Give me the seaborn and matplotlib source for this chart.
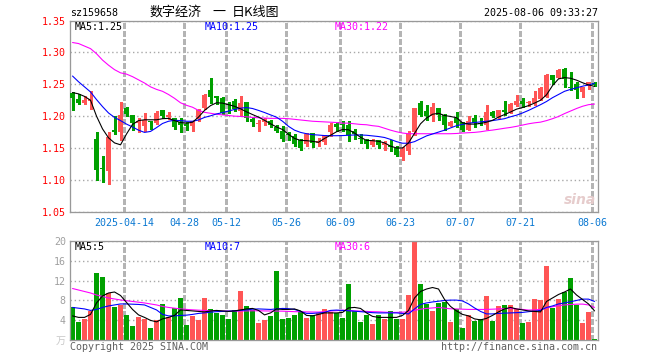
import numpy as np
import pandas as pd
import matplotlib
matplotlib.use("Agg")
import matplotlib.pyplot as plt
import seaborn as sns

# ---------------- data ----------------
tick_idx = [9, 19, 26, 36, 45, 55, 65, 75, 87]
tick_labels = ["2025-04-14", "04-28", "05-12", "05-26", "06-09", "06-23", "07-07", "07-21", "08-06"]

open_ = [1.236, 1.227, 1.2214, 1.223, 1.1646, 1.118, 1.1135, 1.1786, 1.175, 1.2133,
         1.2016, 1.1891, 1.1839, 1.1917, 1.1885, 1.2096, 1.199, 1.1969, 1.1912, 1.1875,
         1.1846, 1.195, 1.2125, 1.2411, 1.2318, 1.2292, 1.2188, 1.224, 1.2073, 1.2219,
         1.1958, 1.187, 1.1906, 1.1917, 1.1823, 1.176, 1.1714, 1.1693, 1.1625, 1.1568,
         1.1734, 1.1573, 1.1594, 1.1745, 1.188, 1.187, 1.1865, 1.176, 1.1656, 1.1625,
         1.1552, 1.162, 1.1552, 1.1552, 1.150, 1.1354, 1.1448, 1.1745, 1.2203, 1.2083,
         1.1995, 1.2125, 1.2021, 1.1849, 1.1969, 1.1906, 1.1786, 1.1969, 1.1891, 1.1865,
         1.2063, 1.1979, 1.2099, 1.2063, 1.2177, 1.224, 1.2203, 1.2203, 1.2266, 1.2307,
         1.2646, 1.2604, 1.274, 1.2464, 1.25, 1.2385, 1.2479, 1.2526]
high = [1.2385, 1.234, 1.231, 1.2396, 1.1745, 1.138, 1.1757, 1.2005, 1.2229, 1.2151,
        1.202, 1.1969, 1.2055, 1.1922, 1.2073, 1.2099, 1.2063, 1.1975, 1.1969, 1.1906,
        1.1927, 1.2112, 1.2344, 1.2604, 1.2318, 1.2307, 1.2229, 1.2271, 1.2318, 1.2219,
        1.1969, 1.1938, 1.1969, 1.1943, 1.1865, 1.1849, 1.175, 1.1724, 1.1646, 1.1734,
        1.1734, 1.1656, 1.1708, 1.1891, 1.1906, 1.1927, 1.1927, 1.1797, 1.1724, 1.1646,
        1.1641, 1.162, 1.1604, 1.163, 1.1526, 1.151, 1.176, 1.2135, 1.224, 1.2177,
        1.2203, 1.2135, 1.2031, 1.1917, 1.2063, 1.1906, 1.2005, 1.2021, 1.1969, 1.2177,
        1.2083, 1.2099, 1.224, 1.2203, 1.2333, 1.2292, 1.224, 1.2396, 1.2464, 1.2656,
        1.2646, 1.2734, 1.276, 1.2688, 1.2531, 1.2464, 1.2542, 1.2542]
low = [1.209, 1.2195, 1.2198, 1.2115, 1.1005, 1.0965, 1.0938, 1.1724, 1.163, 1.2005,
       1.1776, 1.175, 1.176, 1.180, 1.187, 1.1975, 1.1958, 1.1797, 1.1748, 1.1786,
       1.1774, 1.1927, 1.2115, 1.2212, 1.2198, 1.2031, 1.2047, 1.2083, 1.2021, 1.1927,
       1.1839, 1.176, 1.1854, 1.1823, 1.175, 1.1604, 1.163, 1.1526, 1.1474, 1.1526,
       1.151, 1.1526, 1.1568, 1.1682, 1.1771, 1.176, 1.1604, 1.1646, 1.1578, 1.150,
       1.1536, 1.150, 1.1474, 1.1448, 1.137, 1.1318, 1.1411, 1.1708, 1.1995, 1.1943,
       1.1927, 1.1943, 1.1786, 1.1839, 1.1823, 1.176, 1.1776, 1.1823, 1.1854, 1.1802,
       1.1979, 1.1969, 1.2021, 1.2047, 1.2167, 1.2151, 1.2167, 1.2177, 1.2255, 1.2297,
       1.25, 1.2594, 1.2464, 1.2411, 1.2281, 1.2307, 1.2427, 1.2479]
close = [1.228, 1.2212, 1.226, 1.227, 1.1148, 1.1172, 1.1667, 1.1745, 1.2021, 1.2028,
         1.1888, 1.1927, 1.1932, 1.1901, 1.2052, 1.1995, 1.2021, 1.1828, 1.1856, 1.1845,
         1.1919, 1.210, 1.2338, 1.2307, 1.2292, 1.2047, 1.2172, 1.2115, 1.2214, 1.1969,
         1.1906, 1.1896, 1.1938, 1.1854, 1.176, 1.1646, 1.1708, 1.1568, 1.150, 1.1719,
         1.1573, 1.1604, 1.1708, 1.1865, 1.1823, 1.186, 1.1698, 1.1724, 1.1641, 1.1563,
         1.162, 1.1552, 1.1573, 1.151, 1.1385, 1.1484, 1.1719, 1.2135, 1.2021, 1.201,
         1.2151, 1.2021, 1.1854, 1.1901, 1.1891, 1.1786, 1.1927, 1.1891, 1.1875, 1.2063,
         1.1995, 1.2099, 1.2068, 1.2188, 1.224, 1.2198, 1.2219, 1.2292, 1.2448, 1.2646,
         1.2568, 1.2724, 1.2583, 1.2448, 1.2411, 1.2464, 1.2531, 1.249]

ma5 = [1.237, 1.235, 1.231, 1.225, 1.200, 1.180, 1.166, 1.158, 1.155, 1.172,
       1.187, 1.193, 1.1943, 1.1943, 1.1943, 1.196, 1.1965, 1.193, 1.190, 1.189,
       1.1905, 1.1985, 1.209, 1.2165, 1.221, 1.2205, 1.218, 1.2155, 1.2115, 1.2068,
       1.2025, 1.1985, 1.1935, 1.188, 1.183, 1.179, 1.1715, 1.165, 1.162, 1.1615,
       1.1605, 1.159, 1.165, 1.170, 1.1755, 1.179, 1.1786, 1.1735, 1.1668, 1.162,
       1.1615, 1.1605, 1.158, 1.153, 1.150, 1.150, 1.158, 1.173, 1.188, 1.197,
       1.203, 1.2045, 1.201, 1.1995, 1.1975, 1.1895, 1.1875, 1.1875, 1.1885, 1.1905,
       1.1935, 1.1985, 1.2025, 1.2065, 1.211, 1.2135, 1.2165, 1.2205, 1.225, 1.2335,
       1.248, 1.2585, 1.2605, 1.2595, 1.2565, 1.2525, 1.249, 1.2467]
ma10 = [1.263, 1.254, 1.246, 1.238, 1.226, 1.215, 1.205, 1.198, 1.193, 1.1875,
        1.183, 1.178, 1.1745, 1.176, 1.182, 1.1885, 1.192, 1.1935, 1.193, 1.192,
        1.192, 1.194, 1.198, 1.2005, 1.2035, 1.2055, 1.208, 1.2105, 1.2125, 1.2135,
        1.212, 1.209, 1.2057, 1.202, 1.1984, 1.192, 1.184, 1.178, 1.1745, 1.1724,
        1.171, 1.1703, 1.1695, 1.1693, 1.1693, 1.1695, 1.170, 1.1705, 1.1705, 1.170,
        1.169, 1.168, 1.1665, 1.1635, 1.160, 1.1575, 1.1575, 1.160, 1.1645, 1.169,
        1.172, 1.175, 1.178, 1.1815, 1.185, 1.187, 1.189, 1.190, 1.191, 1.192,
        1.193, 1.1945, 1.196, 1.199, 1.2015, 1.205, 1.209, 1.2135, 1.218, 1.223,
        1.229, 1.234, 1.239, 1.242, 1.2445, 1.247, 1.249, 1.2515]
ma30 = [1.3156, 1.314, 1.310, 1.306, 1.298, 1.288, 1.280, 1.273, 1.268, 1.266,
        1.262, 1.257, 1.252, 1.246, 1.242, 1.239, 1.234, 1.228, 1.221, 1.217,
        1.214, 1.209, 1.206, 1.2045, 1.203, 1.202, 1.201, 1.200, 1.1995, 1.199,
        1.198, 1.1975, 1.197, 1.1965, 1.1965, 1.1965, 1.196, 1.195, 1.194, 1.193,
        1.192, 1.1915, 1.191, 1.1905, 1.190, 1.189, 1.189, 1.188, 1.187, 1.1865,
        1.185, 1.184, 1.181, 1.178, 1.1755, 1.1735, 1.1724, 1.1724, 1.1724, 1.1724,
        1.1724, 1.1724, 1.1724, 1.1724, 1.1728, 1.1735, 1.174, 1.1745, 1.1755, 1.177,
        1.1781, 1.1795, 1.181, 1.1823, 1.184, 1.186, 1.188, 1.1895, 1.1906, 1.193,
        1.196, 1.1995, 1.204, 1.208, 1.212, 1.2155, 1.218, 1.219]

volume = [6.67, 3.67, 4.27, 5.9, 13.47, 12.67, 9.4, 6.67, 7.07, 5.07,
          2.87, 4.67, 4.2, 2.47, 4.07, 7.27, 4.6, 6.53, 8.47, 3.07,
          4.93, 4.07, 8.47, 6.2, 5.53, 5.07, 4.27, 6.07, 9.87, 6.87,
          6.07, 3.53, 4.07, 4.87, 13.87, 4.27, 4.47, 5.07, 5.73, 4.47,
          5.07, 5.53, 6.27, 5.73, 5.4, 4.47, 11.27, 5.93, 3.67, 5.07,
          3.27, 5.07, 4.27, 5.87, 4.27, 4.27, 9.07, 19.67, 11.27, 7.27,
          5.87, 7.53, 7.67, 3.67, 6.27, 2.47, 5.07, 3.93, 4.27, 8.87,
          3.93, 6.87, 7.07, 7.07, 6.33, 3.53, 3.67, 8.27, 8.07, 14.93,
          6.53, 8.27, 9.67, 12.47, 7.07, 3.47, 5.67, 0.27]
vma5 = [4.9, 4.6, 4.6, 5.2, 7.5, 8.9, 9.5, 9.7, 9.0, 7.6,
        6.2, 5.1, 4.6, 4.0, 3.7, 4.3, 4.6, 5.0, 6.1, 6.0,
        5.9, 5.8, 5.7, 5.9, 6.0, 5.9, 5.8, 5.9, 6.1, 6.3,
        6.4, 6.0, 5.1, 5.5, 6.3, 6.2, 6.2, 6.3, 5.9, 5.0,
        4.9, 5.2, 5.5, 5.5, 5.5, 5.6, 6.5, 6.6, 6.4, 5.5,
        4.8, 4.6, 4.6, 4.6, 4.6, 5.0, 6.0, 8.5, 9.8, 10.3,
        10.6, 10.3, 8.2, 6.8, 5.9, 5.2, 4.9, 4.3, 4.1, 4.4,
        5.0, 5.7, 6.3, 6.6, 6.3, 6.1, 5.9, 5.8, 5.7, 7.8,
        8.5, 9.2, 9.7, 10.3, 9.1, 8.2, 7.3, 5.9]
vma10 = [6.6, 6.45, 6.3, 6.0, 6.2, 6.6, 6.9, 7.1, 7.3, 7.3,
         7.25, 7.2, 7.1, 6.6, 6.1, 5.2, 4.9, 4.9, 5.0, 5.05,
         5.2, 5.4, 5.5, 5.65, 5.75, 5.8, 5.85, 5.9, 6.0, 6.1,
         6.25, 6.3, 6.25, 6.2, 6.3, 6.4, 6.35, 6.2, 5.8, 5.4,
         5.4, 5.5, 5.6, 6.0, 6.07, 6.0, 5.93, 5.85, 5.75, 5.65,
         5.55, 5.5, 5.5, 5.5, 5.5, 5.4, 5.3, 6.3, 7.2, 7.5,
         7.7, 7.85, 8.0, 8.07, 8.07, 7.9, 7.3, 6.5, 5.8, 5.3,
         5.3, 5.4, 5.45, 5.5, 5.55, 5.6, 5.75, 5.85, 6.0, 6.6,
         6.9, 7.3, 7.5, 7.75, 8.0, 8.27, 8.27, 7.8]
vma30 = [10.4, 10.1, 9.8, 9.5, 9.1, 8.8, 8.5, 8.3, 8.1, 7.95,
         7.8, 7.65, 7.5, 7.3, 7.1, 6.8, 6.6, 6.45, 6.3, 6.2,
         6.12, 6.05, 6.0, 5.95, 5.9, 5.87, 5.87, 5.87, 5.87, 5.9,
         5.93, 5.93, 5.9, 5.88, 5.87, 5.85, 5.8, 5.75, 5.73, 5.7,
         5.68, 5.67, 5.75, 5.87, 5.95, 6.05, 6.0, 5.9, 5.87, 5.8,
         5.75, 5.72, 5.65, 5.6, 5.6, 5.65, 5.73, 6.0, 6.25, 6.4,
         6.5, 6.6, 6.45, 6.33, 6.3, 6.25, 6.2, 6.2, 6.2, 6.2,
         6.25, 6.3, 6.35, 6.4, 6.3, 6.2, 6.07, 6.1, 6.2, 6.5,
         6.73, 6.95, 7.1, 7.2, 7.25, 7.27, 7.1, 6.6]

price_ticks = [1.05, 1.10, 1.15, 1.20, 1.25, 1.30, 1.35]
vol_ticks = [0, 4, 8, 12, 16, 20]

# ---------------- styling ----------------
RED = "#ff5555"
GREEN = "#00a000"
GRID = "#a8a8a8"
VGRID = "#b4b4b4"
FRAME = "#999999"
PX = 0.72  # one pixel in points at dpi 100

sns.set_style("white")
plt.rcParams["font.family"] = ["DejaVu Sans Mono", "Noto Sans CJK SC"]
FS = 7.2

W, H = 660, 360
fig = plt.figure(figsize=(6.6, 3.6), dpi=100)
fig.patch.set_facecolor("white")


def rect(l, t, r, b):
    return [l / W, 1 - b / H, (r - l) / W, (b - t) / H]


ax = fig.add_axes(rect(70, 20.6, 598, 211.7))
axv = fig.add_axes(rect(70, 240.7, 598, 340.3))

df = pd.DataFrame({"i": np.arange(len(close)), "open": open_, "high": high, "low": low,
                   "close": close, "ma5": ma5, "ma10": ma10, "ma30": ma30,
                   "vol": volume, "vma5": vma5, "vma10": vma10, "vma30": vma30})
df["up"] = df["close"] >= df["open"]
cols = np.where(df["up"], RED, GREEN)

grid_x = [t - 0.37 for t in tick_idx]


def dashed_vgrid(a, height_px, on_px=5.0, off_px=3.0):
    """Dashed vertical gridlines built as short solid segments (axes-fraction y)."""
    step = (on_px + off_px) / height_px
    starts = np.arange(0, 1, step)
    ends = np.minimum(starts + on_px / height_px, 1)
    xs = np.repeat(grid_x, len(starts))
    a.vlines(xs, np.tile(starts, len(grid_x)), np.tile(ends, len(grid_x)),
             colors=VGRID, lw=1.0, zorder=1.5, antialiased=False,
             transform=a.get_xaxis_transform())


dashed_vgrid(ax, 191.1)
dashed_vgrid(axv, 99.6)

# candles
ax.vlines(df["i"], df["low"], df["high"], colors=cols, lw=1.0, zorder=2, antialiased=False)
body_bot = np.minimum(df["open"], df["close"])
body_h = np.maximum(np.abs(df["close"] - df["open"]), 0.0016)
ax.bar(df["i"], body_h, bottom=body_bot, width=0.8, color=cols, linewidth=0, zorder=3,
       antialiased=False)

# moving averages
sns.lineplot(data=df, x="i", y="ma30", ax=ax, color="#ff00ff", lw=1.1 * PX, zorder=4, legend=False)
sns.lineplot(data=df, x="i", y="ma10", ax=ax, color="#0000ff", lw=1.1 * PX, zorder=5, legend=False)
sns.lineplot(data=df, x="i", y="ma5", ax=ax, color="black", lw=1.1 * PX, zorder=6, legend=False)

# volume
axv.bar(df["i"], df["vol"], width=0.8, color=cols, linewidth=0, zorder=2, antialiased=False)
sns.lineplot(data=df, x="i", y="vma30", ax=axv, color="#ff00ff", lw=1.1 * PX, zorder=4, legend=False)
sns.lineplot(data=df, x="i", y="vma10", ax=axv, color="#0000ff", lw=1.1 * PX, zorder=5, legend=False)
sns.lineplot(data=df, x="i", y="vma5", ax=axv, color="black", lw=1.1 * PX, zorder=6, legend=False)

# axes limits / ticks
for a in (ax, axv):
    a.set_xlim(-0.42, 87.58)
    a.set_xlabel("")
    a.set_ylabel("")
    for s in a.spines.values():
        s.set_color(FRAME)
        s.set_linewidth(1.3 * PX)
        s.set_visible(True)
    a.set_facecolor("white")
    a.set_axisbelow(True)

ax.set_ylim(1.05, 1.35)
ax.set_yticks(price_ticks)
ax.set_yticklabels([f"{v:.2f}" for v in price_ticks])
ax.tick_params(axis="y", length=0, pad=3.0, labelsize=FS, labelcolor="#ff0000")
ax.set_xticks(grid_x)
ax.set_xticklabels(tick_labels)
ax.tick_params(axis="x", length=0, pad=4.2, labelsize=FS, labelcolor="#0a78d2")

axv.set_ylim(0, 20)
axv.set_yticks(vol_ticks)
axv.set_yticklabels(["万"] + [str(v) for v in vol_ticks[1:]])
axv.tick_params(axis="y", length=0, pad=3.0, labelsize=FS, labelcolor="#a0a0a0")
axv.get_yticklabels()[0].set_color("#c8c8c8")
axv.set_xticks([])

for a in (ax, axv):
    a.grid(True, axis="y", color=GRID, linewidth=1.0, linestyle=(0, (1.0, 2.0)))

# texts
def ftext(x, y, s, **kw):
    fig.text(x / W, 1 - y / H, s, va="center", **kw)

ftext(70, 13.5, "sz159658", fontsize=FS, color="black", ha="left")
ftext(150, 12.5, "数字经济", fontsize=9.4, color="black", ha="left", family="Noto Sans CJK SC")
ftext(212, 12.5, "一", fontsize=9.4, color="black", ha="left", family="Noto Sans CJK SC")
ftext(232, 12.5, "日K线图", fontsize=9.4, color="black", ha="left", family="Noto Sans CJK SC")
ftext(598, 13.5, "2025-08-06 09:33:27", fontsize=FS, color="black", ha="right")

ftext(75, 26.5, "MA5:1.25", fontsize=FS, color="black", ha="left")
ftext(205, 26.5, "MA10:1.25", fontsize=FS, color="#0000ff", ha="left")
ftext(335, 26.5, "MA30:1.22", fontsize=FS, color="#ff00ff", ha="left")

ftext(75, 246.5, "MA5:5", fontsize=FS, color="black", ha="left")
ftext(205, 246.5, "MA10:7", fontsize=FS, color="#0000ff", ha="left")
ftext(335, 246.5, "MA30:6", fontsize=FS, color="#ff00ff", ha="left")

ftext(70, 346.5, "Copyright 2025 SINA.COM", fontsize=FS, color="#606060", ha="left")
ftext(597, 346.5, "http://finance.sina.com.cn", fontsize=FS, color="#606060", ha="right")

ftext(596, 200, "sina", fontsize=10, color="#e6cccc", ha="right", style="italic",
      fontweight="bold", family="DejaVu Sans")

fig.savefig("out.png", dpi=100, facecolor="white")
